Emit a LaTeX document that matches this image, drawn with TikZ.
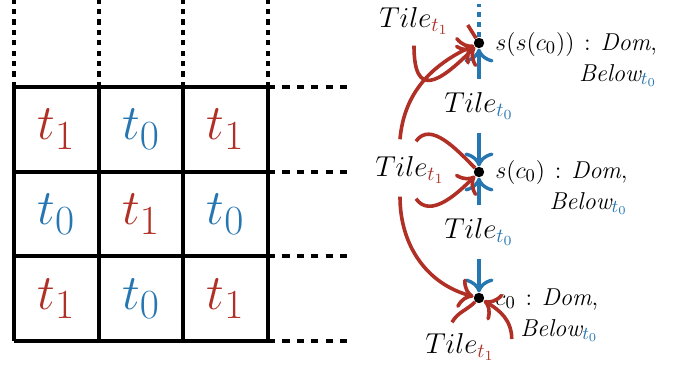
\documentclass[tikz,border=0pt]{standalone}
\usepackage{amsmath,amssymb}
\usetikzlibrary{arrows.meta}

\definecolor{tred}{RGB}{176,48,38}
\definecolor{tblue}{RGB}{38,118,178}
\colorlet{tcol0}{tblue}
\colorlet{tcol1}{tred}

\newcommand{\isdom}{\hspace{0.4em}:\hspace{0.4em}\textit{Dom},}

\begin{document}
\begin{tikzpicture}[x=0.5pt, y=-0.5pt, >={To[scale=1.3]},
    gridline/.style={line width=2pt},
    gridup/.style={line width=2pt, dash pattern=on 2.6pt off 2.6pt},
    gridright/.style={line width=2pt, dash pattern=on 3.6pt off 3.6pt},
    cellnum/.style={font=\Huge},
    dot/.style={circle, fill=black, inner sep=0pt, minimum size=5.2pt},
    dotlbl/.style={anchor=north west, align=right, inner sep=0pt, font=\fontsize{12.2}{15.5}\selectfont},
    tilelbl/.style={font=\Large},
    tline/.style={tred, line width=1.8pt},
    tarrowr/.style={tline, ->},
    tarrowb/.style={tblue, line width=1.7pt, ->, shorten <=3pt},
    tdots/.style={tblue, line width=1.7pt, dash pattern=on 2.5pt off 2.5pt}]
    \useasboundingbox (0,0) rectangle (693,368);

    % Draw grid
    \foreach \i in {0,...,3} {
        \draw[gridline] (14+\i*84.67, 87) -- (14+\i*84.67, 341);
        \draw[gridline] (14, 87+\i*84.67) -- (268, 87+\i*84.67);
        \draw[gridup] (14+\i*84.67, 87) -- (14+\i*84.67, 0);
        \draw[gridright] (268, 87+\i*84.67) -- (353, 87+\i*84.67);
    }

    % Draw tiles
    \foreach \r in {0,1,2} {
        \foreach \c in {0,1,2} {
            \pgfmathtruncatemacro{\k}{mod(\r+\c+1,2)}
            \node[cellnum, text=tcol\k] (cell\r\c) at (56.3+\c*84.67, 129.3+\r*84.67) {$t_{\k}$};
        }
    }

    % Draw domain elements
    \node[dot] (sscz) at (479, 43) {};
    \node[dot] (scz) at (479, 172) {};
    \node[dot] (cz) at (479, 298) {};
    \coordinate (sscz-up) at (479, 4);

    \node[dotlbl] (sscz-l) at (495, 32) {$s(s(c_0))$\isdom\\ $\textit{Below}_{\color{tblue}t_0}$};
    \node[dotlbl] (scz-l) at (495, 160) {$s(c_0)$\isdom\\ $\textit{Below}_{\color{tblue}t_0}$};
    \node[dotlbl] (cz-l) at (495, 288) {$c_0$\isdom\\ $\textit{Below}_{\color{tblue}t_0}$};

    % Draw tile labels
    \node[tilelbl] (tileA0) at (479, 106) {$Tile_{\color{tblue}t_0}$};
    \node[tilelbl] (tileB0) at (479, 232) {$Tile_{\color{tblue}t_0}$};
    \node[tilelbl] (tileA1) at (414, 21) {$Tile_{\color{tred}t_1}$};
    \node[tilelbl] (tileB1) at (410, 170) {$Tile_{\color{tred}t_1}$};
    \node[tilelbl] (tileC1) at (460, 347) {$Tile_{\color{tred}t_1}$};

    % Draw blue arrows
    \draw[tdots] (sscz) -- (sscz-up);
    \draw[tarrowb] (tileA0) -- (sscz);
    \draw[tarrowb] (tileA0) -- (scz);
    \draw[tarrowb] (tileB0) -- (scz);
    \draw[tarrowb] (tileB0) -- (cz);

    % Draw red arrows
    \draw[tline] (sscz) -- ([xshift=6pt,yshift=-2pt]tileA1.east);
    \draw[tarrowr] ([yshift=-2pt]tileA1.south) to[out=-90, in=225, looseness=2.2] (sscz);
    \draw[tarrowr] ([xshift=-5pt,yshift=5pt]tileB1.north) to[out=85, in=205] (sscz);
    \draw[tarrowr] ([xshift=-5pt,yshift=-3pt]tileB1.south) to[out=-90, in=165] (cz);
    \draw[tline] ([xshift=3pt,yshift=4pt]tileB1.north) to[out=55, in=135] (scz);
    \draw[tarrowr] ([xshift=3pt,yshift=-4pt]tileB1.south) to[out=-55, in=225] (scz);
    \draw[tline] (cz) to[out=-135, in=60] ([xshift=-4pt,yshift=2pt]tileC1.north);
    \draw[tarrowr] ([xshift=5pt,yshift=4pt]tileC1.east) to[out=90, in=-30] (cz);
\end{tikzpicture}
\end{document}
